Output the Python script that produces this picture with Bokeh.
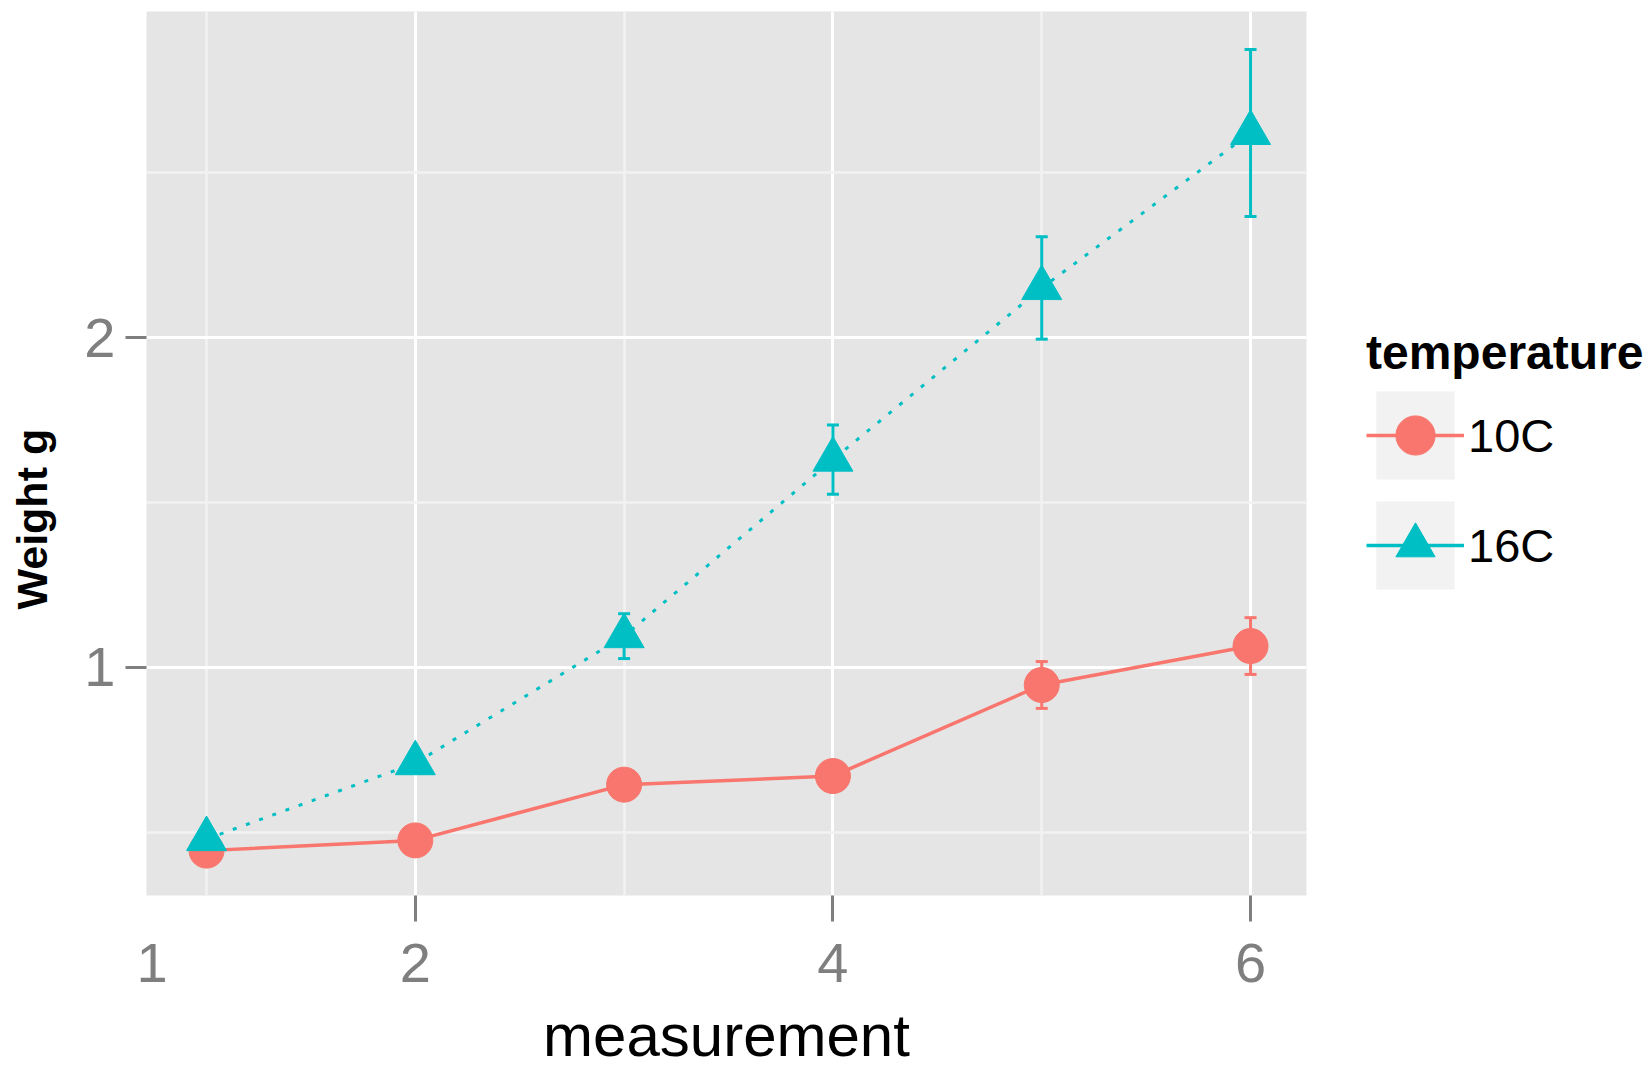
from bokeh.plotting import figure
from bokeh.models import (ColumnDataSource, FixedTicker, Whisker, TeeHead, Legend,
                          LegendItem, Range1d)
from bokeh.embed import file_html
from bokeh.resources import INLINE

# ---- data ----
measurement = [1, 2, 3, 4, 5, 6]
weight_10C = [0.445, 0.476, 0.645, 0.671, 0.947, 1.065]
se_10C = [0.02, 0.02, 0.03, 0.03, 0.071, 0.086]
weight_16C = [0.48, 0.71, 1.095, 1.63, 2.15, 2.62]
se_16C = [0.02, 0.03, 0.068, 0.105, 0.155, 0.253]
series_labels = ["10C", "16C"]
x_ticks = [2, 4, 6]
x_minor = [1, 3, 5]
x_stray_tick = 0.739          # the "1" label sits at the left edge in the reference
x_stray_label = "1"
y_ticks = [1, 2]
y_minor = [0.5, 1.5, 2.5]
x_title = "measurement"
y_title = "Weight g"
legend_title = "temperature"

RED = "#F8766D"
CYAN = "#00BFC4"
FONT = "Liberation Sans"
TICK_GREY = "#7f7f7f"


def make_source(x, y, se):
    return ColumnDataSource(dict(
        x=x, y=y,
        upper=[a + b for a, b in zip(y, se)],
        lower=[a - b for a, b in zip(y, se)],
    ))


src10 = make_source(measurement, weight_10C, se_10C)
src16 = make_source(measurement, weight_16C, se_16C)

p = figure(frame_width=1160, frame_height=884,
           min_border_left=146, min_border_right=342,
           min_border_top=11, min_border_bottom=179,
           x_range=Range1d(0.7126, 6.268), y_range=Range1d(0.309, 2.988),
           output_backend="svg", toolbar_location=None,
           background_fill_color="#e5e5e5", border_fill_color="white",
           outline_line_color=None)

# grids
p.xgrid.ticker = FixedTicker(ticks=x_ticks, minor_ticks=x_minor)
p.ygrid.ticker = FixedTicker(ticks=y_ticks, minor_ticks=y_minor)
for g in (p.xgrid, p.ygrid):
    g.grid_line_color = "white"
    g.grid_line_width = 3
    g.minor_grid_line_color = "#f2f2f2"
    g.minor_grid_line_width = 2.5

# axes
p.xaxis.ticker = FixedTicker(ticks=[x_stray_tick] + x_ticks, minor_ticks=x_ticks)
p.xaxis.major_label_overrides = {x_stray_tick: x_stray_label}
p.yaxis.ticker = FixedTicker(ticks=y_ticks)
for ax in (p.xaxis, p.yaxis):
    ax.axis_line_color = None
    ax.major_tick_in = 0
    ax.minor_tick_in = 0
    ax.minor_tick_out = 0
    ax.major_tick_line_color = TICK_GREY
    ax.major_tick_line_width = 3
    ax.major_label_text_font = FONT
    ax.major_label_text_font_size = "56px"
    ax.major_label_text_color = TICK_GREY
# x: the tick marks are drawn as minor ticks (only at 2, 4, 6)
p.xaxis.major_tick_out = 26
p.xaxis.major_tick_line_color = None
p.xaxis.minor_tick_out = 26
p.xaxis.minor_tick_line_color = TICK_GREY
p.xaxis.minor_tick_line_width = 3
p.yaxis.major_tick_out = 21
p.yaxis.minor_tick_line_color = None
p.xaxis.major_label_standoff = 22
p.yaxis.major_label_standoff = 10

p.xaxis.axis_label = x_title
p.xaxis.axis_label_text_font = FONT
p.xaxis.axis_label_text_font_size = "60px"
p.xaxis.axis_label_text_font_style = "normal"
p.xaxis.axis_label_text_color = "black"
p.xaxis.axis_label_standoff = 17

# y title sits below the panel centre in the reference: pad its end
p.yaxis.axis_label = y_title + "\u00a0" * 11
p.yaxis.axis_label_text_font = FONT
p.yaxis.axis_label_text_font_size = "43px"
p.yaxis.axis_label_text_font_style = "bold"
p.yaxis.axis_label_text_color = "black"
p.yaxis.axis_label_standoff = 25

# error bars
for src, col in ((src10, RED), (src16, CYAN)):
    w = Whisker(base="x", upper="upper", lower="lower", source=src,
                line_color=col, line_width=3, level="underlay",
                upper_head=TeeHead(size=12, line_color=col, line_width=3),
                lower_head=TeeHead(size=12, line_color=col, line_width=3))
    p.add_layout(w)

# series
l10 = p.line("x", "y", source=src10, line_color=RED, line_width=3.5)
m10 = p.scatter("x", "y", source=src10, marker="circle", size=35,
                fill_color=RED, line_color=RED)
l16 = p.line("x", "y", source=src16, line_color=CYAN, line_width=3,
             line_dash="4 10")
m16 = p.scatter("x", "y", source=src16, marker="triangle", size=40,
                fill_color=CYAN, line_color=CYAN)

# legend helpers (zero-size, only visible in the legend)
box10 = p.quad(left="x", right="x", top="y", bottom="y", source=src10,
               fill_color="#f2f2f2", line_color=None)
box16 = p.quad(left="x", right="x", top="y", bottom="y", source=src16,
               fill_color="#f2f2f2", line_color=None)
key10 = p.segment(x0="x", y0="y", x1="x", y1="y", source=src10,
                  line_color=RED, line_width=3.5)
key16 = p.segment(x0="x", y0="y", x1="x", y1="y", source=src16,
                  line_color=CYAN, line_width=3.5)

legend = Legend(items=[
    LegendItem(label=series_labels[0], renderers=[box10, key10, m10]),
    LegendItem(label=series_labels[1], renderers=[box16, key16, m16]),
], location=(60, 295))
legend.title = legend_title
legend.title_text_font = FONT
legend.title_text_font_style = "bold"
legend.title_text_font_size = "48px"
legend.title_text_color = "black"
legend.title_standoff = 0
legend.label_text_font = FONT
legend.label_text_font_size = "47px"
legend.label_text_color = "black"
legend.glyph_width = 98
legend.glyph_height = 110
legend.label_height = 110
legend.label_standoff = 4
legend.spacing = 0
legend.padding = 0
legend.margin = 0
legend.background_fill_alpha = 0
legend.border_line_color = None
p.add_layout(legend, "right")

open("out.html", "w").write(file_html(p, INLINE))
